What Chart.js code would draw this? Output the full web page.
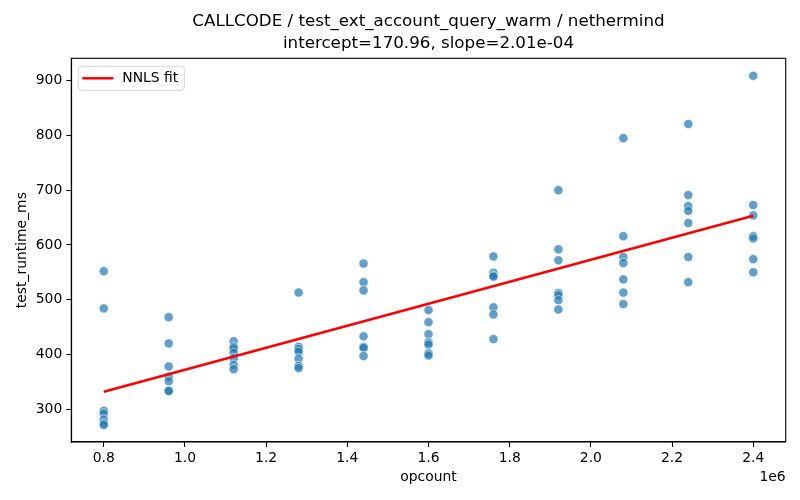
<!DOCTYPE html>
<html lang="en">
<head>
    <meta charset="UTF-8">
    <title>CALLCODE / test_ext_account_query_warm / nethermind</title>
    <script src="https://cdn.jsdelivr.net/npm/chart.js"></script>
    <style>
        body { margin: 0; background: #ffffff; }
        #wrap { width: 800px; height: 500px; }
    </style>
</head>
<body>
    <div id="wrap"><canvas id="chart" width="800" height="500"></canvas></div>

    <script>
        // data
        const titleLines = ["CALLCODE / test_ext_account_query_warm / nethermind", "intercept=170.96, slope=2.01e-04"];
        const opcounts = [800000, 960000, 1120000, 1280000, 1440000, 1600000, 1760000, 1920000, 2080000, 2240000, 2400000];
        const runtimes = [
            [552, 484, 297, 292, 281, 274, 271],
            [468, 420, 378, 359, 351, 334, 333],
            [424, 414, 411, 403, 393, 381, 373],
            [513, 414, 410, 405, 392, 379, 375],
            [566, 532, 517, 433, 414, 412, 397],
            [481, 459, 437, 422, 418, 402, 398],
            [579, 549, 544, 542, 486, 473, 428],
            [700, 592, 572, 512, 508, 499, 482],
            [795, 616, 578, 567, 537, 513, 492],
            [821, 691, 671, 662, 640, 578, 532],
            [909, 673, 654, 616, 612, 574, 550]
        ];
        const intercept = 170.96;
        const slope = 2.01e-4;
        const xTicks = [800000, 1000000, 1200000, 1400000, 1600000, 1800000, 2000000, 2200000, 2400000];
        const yTicks = [300, 400, 500, 600, 700, 800, 900];

        const scatterPoints = [];
        opcounts.forEach((x, i) => {
            runtimes[i].forEach(y => scatterPoints.push({ x: x, y: y }));
        });
        const xMin = opcounts[0], xMax = opcounts[opcounts.length - 1];
        const fitPoints = [
            { x: xMin, y: intercept + slope * xMin },
            { x: xMax, y: intercept + slope * xMax }
        ];

        const FONT = "'DejaVu Sans', sans-serif";

        // title, frame, legend box and the 1e6 offset label
        const decorations = {
            id: 'decorations',
            afterDatasetsDraw(chart) {
                const ctx = chart.ctx;
                const a = chart.chartArea;
                ctx.save();
                ctx.strokeStyle = '#000';
                ctx.lineWidth = 1.1;
                ctx.strokeRect(a.left, a.top, a.right - a.left, a.bottom - a.top);

                // legend
                const lx = a.left + 7, ly = a.top + 8, lw = 106, lh = 24, r = 3;
                ctx.beginPath();
                ctx.roundRect(lx, ly, lw, lh, r);
                ctx.fillStyle = 'rgba(255,255,255,0.8)';
                ctx.fill();
                ctx.strokeStyle = '#d6d6d6';
                ctx.lineWidth = 1;
                ctx.stroke();
                ctx.beginPath();
                ctx.moveTo(lx + 4, ly + lh / 2);
                ctx.lineTo(lx + 35, ly + lh / 2);
                ctx.strokeStyle = 'red';
                ctx.lineWidth = 2.5;
                ctx.stroke();
                ctx.fillStyle = '#000';
                ctx.font = '13.9px ' + FONT;
                ctx.textAlign = 'left';
                ctx.textBaseline = 'middle';
                ctx.fillText(chart.data.datasets[1].label, lx + 44, ly + lh / 2 + 0.5);

                // offset text
                ctx.textAlign = 'right';
                ctx.fillText('1e6', a.right, 477);

                // title
                ctx.font = '16.7px ' + FONT;
                ctx.textAlign = 'center';
                const cx = (a.left + a.right) / 2;
                ctx.fillText(titleLines[0], cx, 22);
                ctx.fillText(titleLines[1], cx, 44);
                ctx.restore();
            }
        };

        new Chart(document.getElementById('chart'), {
            type: 'scatter',
            data: {
                datasets: [
                    {
                        label: 'runs',
                        data: scatterPoints,
                        backgroundColor: 'rgba(31,119,180,0.7)',
                        borderColor: 'rgba(255,255,255,0.7)',
                        borderWidth: 0.8,
                        pointRadius: 4.6,
                        pointHoverRadius: 4.6,
                        order: 2
                    },
                    {
                        type: 'line',
                        label: 'NNLS fit',
                        data: fitPoints,
                        borderColor: 'red',
                        borderWidth: 2.5,
                        pointRadius: 0,
                        fill: false,
                        order: 1
                    }
                ]
            },
            options: {
                responsive: false,
                animation: false,
                layout: { padding: { top: 58.3, right: 14.3, left: 0, bottom: 0 } },
                plugins: {
                    legend: { display: false },
                    tooltip: { enabled: false }
                },
                scales: {
                    x: {
                        type: 'linear',
                        min: 720000,
                        max: 2480000,
                        afterFit: s => { s.height = 58; },
                        afterBuildTicks: s => { s.ticks = xTicks.map(v => ({ value: v })); },
                        ticks: {
                            callback: v => (v / 1e6).toFixed(1),
                            color: '#000',
                            font: { family: FONT, size: 13.9 },
                            padding: 3,
                            maxRotation: 0
                        },
                        grid: { drawOnChartArea: false, color: '#000', tickLength: 5, tickWidth: 1.1 },
                        border: { color: '#000', width: 1.1 },
                        title: {
                            display: true,
                            text: 'opcount',
                            color: '#000',
                            font: { family: FONT, size: 13.9 },
                            padding: { top: 0, bottom: 14.5 }
                        }
                    },
                    y: {
                        min: 240,
                        max: 941,
                        afterFit: s => { s.width = 71.3; },
                        afterBuildTicks: s => { s.ticks = yTicks.map(v => ({ value: v })); },
                        ticks: {
                            color: '#000',
                            font: { family: FONT, size: 13.9 },
                            padding: 4
                        },
                        grid: { drawOnChartArea: false, color: '#000', tickLength: 5, tickWidth: 1.1 },
                        border: { color: '#000', width: 1.1 },
                        title: {
                            display: true,
                            text: 'test_runtime_ms',
                            color: '#000',
                            font: { family: FONT, size: 13.9 },
                            padding: { top: 13.7, bottom: 0 }
                        }
                    }
                }
            },
            plugins: [decorations]
        });
    </script>
</body>
</html>
